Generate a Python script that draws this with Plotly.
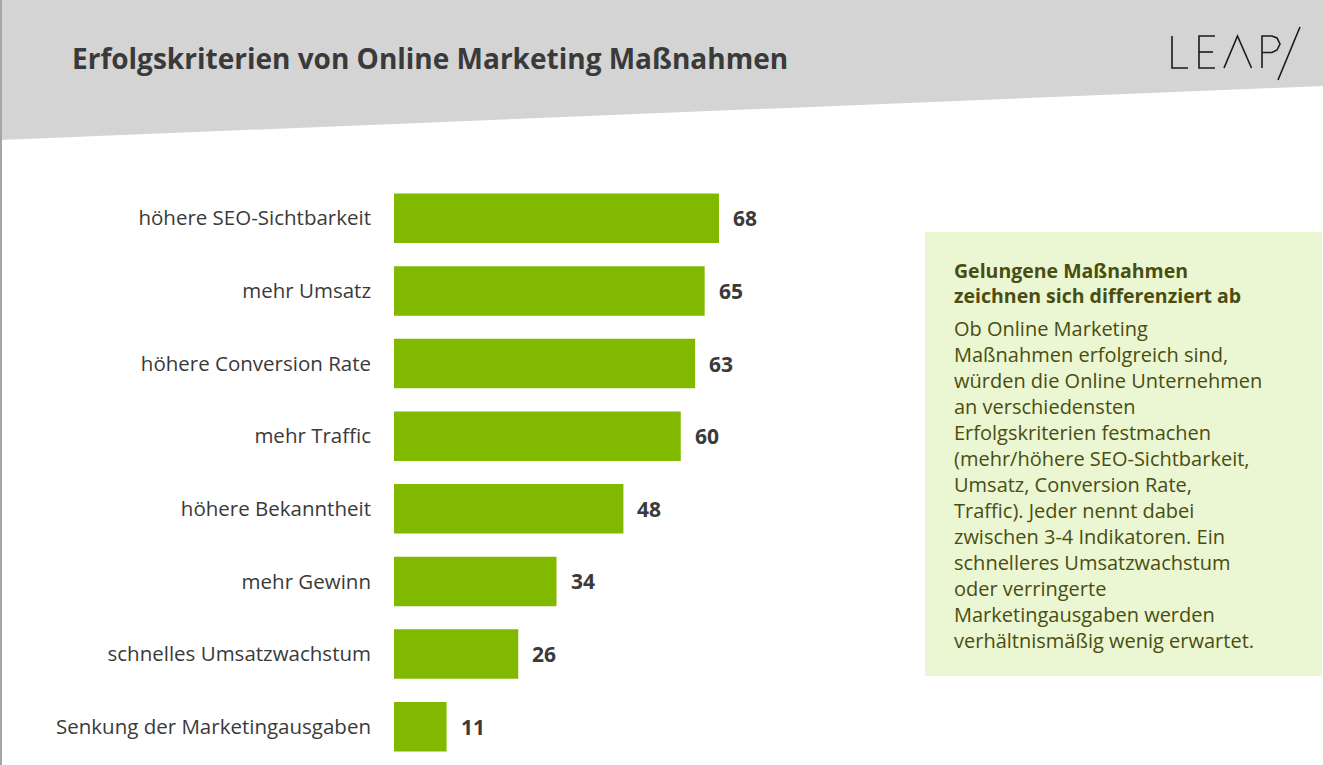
import plotly.graph_objects as go

# data
categories = [
    "höhere SEO-Sichtbarkeit",
    "mehr Umsatz",
    "höhere Conversion Rate",
    "mehr Traffic",
    "höhere Bekanntheit",
    "mehr Gewinn",
    "schnelles Umsatzwachstum",
    "Senkung der Marketingausgaben",
]
values = [68, 65, 63, 60, 48, 34, 26, 11]

title = "Erfolgskriterien von Online Marketing Maßnahmen"
box_head = "Gelungene Maßnahmen<br>zeichnen sich differenziert ab"
box_lines = [
    "Ob Online Marketing",
    "Maßnahmen erfolgreich sind,",
    "würden die Online Unternehmen",
    "an verschiedensten",
    "Erfolgskriterien festmachen",
    "(mehr/höhere SEO-Sichtbarkeit,",
    "Umsatz, Conversion Rate,",
    "Traffic). Jeder nennt dabei",
    "zwischen 3-4 Indikatoren. Ein",
    "schnelleres Umsatzwachstum",
    "oder verringerte",
    "Marketingausgaben werden",
    "verhältnismäßig wenig erwartet.",
]

# layout in pixels
W, H = 1323, 765
L, R, T, B = 394, 900, 182, 763
FONT = "Open Sans"
GREEN = "#80b900"
DARK = "#3a3a3a"
OLIVE = "#4a4d10"


def px(x):
    return (x - L) / (R - L)


def py(y):
    return (B - y) / (B - T)


fig = go.Figure(go.Bar(
    x=values, y=categories, orientation="h",
    marker=dict(color=GREEN, line=dict(width=0)),
    hoverinfo="skip",
))

# value labels next to bars
annos = []
for c, v in zip(categories, values):
    annos.append(dict(x=v, y=c, xref="x", yref="y", text="<b>%d</b>" % v,
                      showarrow=False, xanchor="left", xshift=12,
                      font=dict(family=FONT, size=21, color=DARK)))

annos.append(dict(x=px(70), y=py(58), xref="paper", yref="paper",
                  text="<b>%s</b>" % title, showarrow=False,
                  xanchor="left", yanchor="middle",
                  font=dict(family=FONT, size=28, color=DARK)))
annos.append(dict(x=px(952), y=py(283), xref="paper", yref="paper",
                  text="<b>%s</b>" % box_head, showarrow=False, align="left",
                  xanchor="left", yanchor="middle",
                  font=dict(family=FONT, size=19.5, color=OLIVE)))
annos.append(dict(x=px(952), y=py(484), xref="paper", yref="paper",
                  text="<br>".join(box_lines), showarrow=False, align="left",
                  xanchor="left", yanchor="middle",
                  font=dict(family=FONT, size=20, color=OLIVE)))

shapes = [
    # grey header band with slanted bottom edge
    dict(type="path", xref="paper", yref="paper", layer="below",
         path="M %f,%f L %f,%f L %f,%f L %f,%f Z" % (
             px(0), py(0), px(W), py(0), px(W), py(86), px(0), py(140)),
         fillcolor="#d4d4d4", line=dict(width=0)),
    # left border
    dict(type="line", xref="paper", yref="paper",
         x0=px(1), x1=px(1), y0=py(0), y1=py(H),
         line=dict(color="#a6a6a6", width=2)),
    # text box
    dict(type="rect", xref="paper", yref="paper", layer="below",
         x0=px(925), x1=px(1322), y0=py(232), y1=py(676),
         fillcolor="#ebf6d3", line=dict(width=0)),
]

# LEAP logo drawn with thin strokes
logo = [
    [(1172, 36), (1172, 68), (1188, 68)],
    [(1215, 36), (1199, 36), (1199, 68), (1215, 68)],
    [(1199, 52), (1213, 52)],
    [(1224, 68), (1237.5, 36), (1251.5, 68)],
    [(1262, 68), (1262, 36), (1272, 36), (1277, 38), (1280, 44),
     (1277, 50), (1272, 52.5), (1262, 52.5)],
    [(1300, 27), (1278, 80)],
]
for pts in logo:
    path = "M " + " L ".join("%f,%f" % (px(a), py(b)) for a, b in pts)
    shapes.append(dict(type="path", xref="paper", yref="paper", path=path,
                       line=dict(color="#1a1a1a", width=1.6)))

fig.update_layout(
    width=W, height=H,
    margin=dict(l=L, r=W - R, t=T, b=H - B, autoexpand=False),
    paper_bgcolor="white", plot_bgcolor="rgba(0,0,0,0)",
    bargap=0.32, showlegend=False,
    xaxis=dict(range=[0, 68 * (R - L) / (719 - L)], visible=False, fixedrange=True),
    yaxis=dict(range=[len(categories) - 0.5, -0.5], showgrid=False, zeroline=False,
               showline=False, ticks="", ticklabelstandoff=22, fixedrange=True,
               tickfont=dict(family=FONT, size=20.5, color=DARK)),
    annotations=annos, shapes=shapes,
)

fig.write_html("out.html", config={"displayModeBar": False},
               post_script="document.body.style.margin='0';document.body.style.overflow='hidden';")
